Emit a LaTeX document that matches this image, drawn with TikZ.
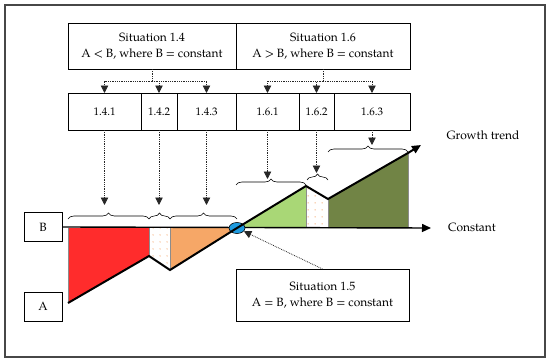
\documentclass[tikz,border=0pt]{standalone}
\usepackage{fontspec}
\setmainfont{TeX Gyre Pagella}
\usepackage{xcolor}
\usetikzlibrary{arrows.meta,positioning,decorations.pathreplacing,patterns,patterns.meta,shapes.geometric}
\definecolor{framegray}{HTML}{474747}
\definecolor{redarea}{HTML}{FF1A1A}
\definecolor{orangearea}{HTML}{F6A05A}
\definecolor{lightgreen}{HTML}{A2D46A}
\definecolor{olivearea}{HTML}{6A7E3C}
\definecolor{dotorange}{HTML}{F08A3C}
\definecolor{pointblue}{HTML}{1E9BE0}

\tikzdeclarepattern{
  name=finedots, type=uncolored,
  bottom left={(0pt,0pt)}, top right={(2.4pt,2.4pt)},
  tile size={(2.4pt,2.4pt)},
  code={\fill (1.2pt,1.2pt) circle (0.45pt);}}
\tikzdeclarepattern{
  name=sparsedots, type=uncolored,
  bottom left={(0pt,0pt)}, top right={(6.5pt,6.5pt)},
  tile size={(6.5pt,6.5pt)},
  code={\fill (3.25pt,3.25pt) circle (0.6pt);}}

\begin{document}
\begin{tikzpicture}[x=1pt, y=-1pt,
    font=\fontsize{12}{16}\selectfont,
    sitbox/.style={draw, line width=0.6pt, align=center, outer sep=0pt,
                   minimum height=46pt, inner sep=2pt},
    subbox/.style={draw, line width=0.6pt, outer sep=0pt, minimum height=37pt,
                   inner sep=1pt, font=\fontsize{11}{13}\selectfont},
    sidebox/.style={draw, line width=0.6pt, minimum width=38pt, minimum height=29pt},
    dotline/.style={densely dotted, line width=0.8pt, draw=black!85},
    dotlink/.style={dotline, -{Triangle[length=7.5pt,width=7.5pt]}},
    grpbrace/.style={decorate, decoration={brace, amplitude=6pt}, line width=0.6pt},
    trend/.style={line width=2pt, -{Triangle[length=9pt,width=8pt]}},
    sepline/.style={draw=black!45, line width=0.4pt}]
  \useasboundingbox (0,0) rectangle (550,364);
  \draw[framegray, line width=1.4pt] (5,5) rectangle (545,357);

  \node[sitbox, minimum width=168pt] (sit14) at (152,46) {Situation 1.4\\A < B, where B = constant};
  \node[sitbox, minimum width=174pt, right=0pt of sit14] (sit16) {Situation 1.6\\A > B, where B = constant};

  \node[subbox, minimum width=73pt, anchor=north west] (b141) at (68,93) {1.4.1};
  \node[subbox, minimum width=36pt, right=0pt of b141] (b142) {1.4.2};
  \node[subbox, minimum width=59pt, right=0pt of b142] (b143) {1.4.3};
  \node[subbox, minimum width=63pt, right=0pt of b143] (b161) {1.6.1};
  \node[subbox, minimum width=35pt, right=0pt of b161] (b162) {1.6.2};
  \node[subbox, minimum width=76pt, right=0pt of b162] (b163) {1.6.3};

  \node[sidebox] (nB) at (43,227) {B};
  \node[sidebox] (nA) at (43,306.5) {A};
  \node[sitbox, minimum width=173pt, minimum height=52pt] (sit15) at (322.5,295) {Situation 1.5\\A = B, where B = constant};
  \node (growth) at (483,135) {Growth trend};
  \node (const) at (472,227) {Constant};

  \coordinate (ax0) at (68,228);
  \coordinate (rb) at (68,303);
  \coordinate (v1) at (149,256);
  \coordinate (v2) at (170,270);
  \coordinate (cx) at (237,228);
  \coordinate (pk) at (306,186);
  \coordinate (v3) at (328,199);
  \coordinate (tp) at (408,153);
  \coordinate (gt) at (421,145);
  \coordinate (axend) at (431,228);

  \fill[redarea] (ax0) -- (rb) -- (v1) -- (v1 |- ax0) -- cycle;
  \fill[pattern=finedots, pattern color=white] (ax0) -- (rb) -- (v1) -- (v1 |- ax0) -- cycle;
  \fill[pattern=sparsedots, pattern color=dotorange] (v1) -- (v2) -- (v2 |- ax0) -- (v1 |- ax0) -- cycle;
  \fill[orangearea] (v2) -- (cx) -- (v2 |- ax0) -- cycle;
  \fill[pattern=finedots, pattern color=white] (v2) -- (cx) -- (v2 |- ax0) -- cycle;
  \fill[lightgreen] (cx) -- (pk) -- (pk |- ax0) -- cycle;
  \fill[pattern=finedots, pattern color=white] (cx) -- (pk) -- (pk |- ax0) -- cycle;
  \fill[pattern=sparsedots, pattern color=dotorange] (pk) -- (v3) -- (v3 |- ax0) -- (pk |- ax0) -- cycle;
  \fill[olivearea] (v3) -- (tp) -- (tp |- ax0) -- (v3 |- ax0) -- cycle;
  \fill[pattern=finedots, pattern color=white!60!olivearea] (v3) -- (tp) -- (tp |- ax0) -- (v3 |- ax0) -- cycle;
  \draw[sepline] (rb) -- (ax0);
  \draw[sepline] (v1) -- (v1 |- ax0);
  \draw[sepline] (v2) -- (v2 |- ax0);
  \draw[sepline] (pk) -- (pk |- ax0);
  \draw[sepline] (v3) -- (v3 |- ax0);
  \draw[sepline] (tp) -- (tp |- ax0);

  \draw[line width=1.4pt, -{Triangle[length=9pt,width=8pt]}] (nB.east) -- (axend);
  \node[draw, fill=pointblue, ellipse, line width=0.6pt, minimum width=16pt,
        minimum height=11pt, inner sep=0pt] (eq) at (cx) {};
  \draw[trend] (rb) -- (v1) -- (v2) -- (cx) -- (pk) -- (v3) -- (tp) -- (gt);

  \draw[grpbrace] (68,219) -- (149,219);
  \draw[grpbrace] (149,219) -- (170,219);
  \draw[grpbrace] (170,219) -- (237,219);
  \draw[grpbrace] (236,185) -- (306,185);
  \draw[grpbrace] (307,180) -- (328,180);
  \draw[grpbrace] (328,152) -- (408,152);

  \draw[dotline] (sit14.south) -- ++(0,12) coordinate (j14);
  \draw[dotline] (sit16.south) -- ++(0,12) coordinate (j16);
  \foreach \b in {b141,b142,b143} \draw[dotlink] (j14) -| (\b.north);
  \foreach \b in {b161,b162,b163} \draw[dotlink] (j16) -| (\b.north);

  \coordinate (low) at (0,205);
  \coordinate (t161) at (0,179);
  \coordinate (t162) at (0,173);
  \coordinate (t163) at (0,145);
  \foreach \b in {b141,b142,b143} \draw[dotlink] (\b.south) -- (\b.south |- low);
  \draw[dotlink] (b161.south) -- (b161.south |- t161);
  \draw[dotlink] (b162.south) -- (b162.south |- t162);
  \draw[dotlink] (b163.south) -- (b163.south |- t163);
  \draw[dotlink] (sit15.north) -- (eq);
\end{tikzpicture}
\end{document}
